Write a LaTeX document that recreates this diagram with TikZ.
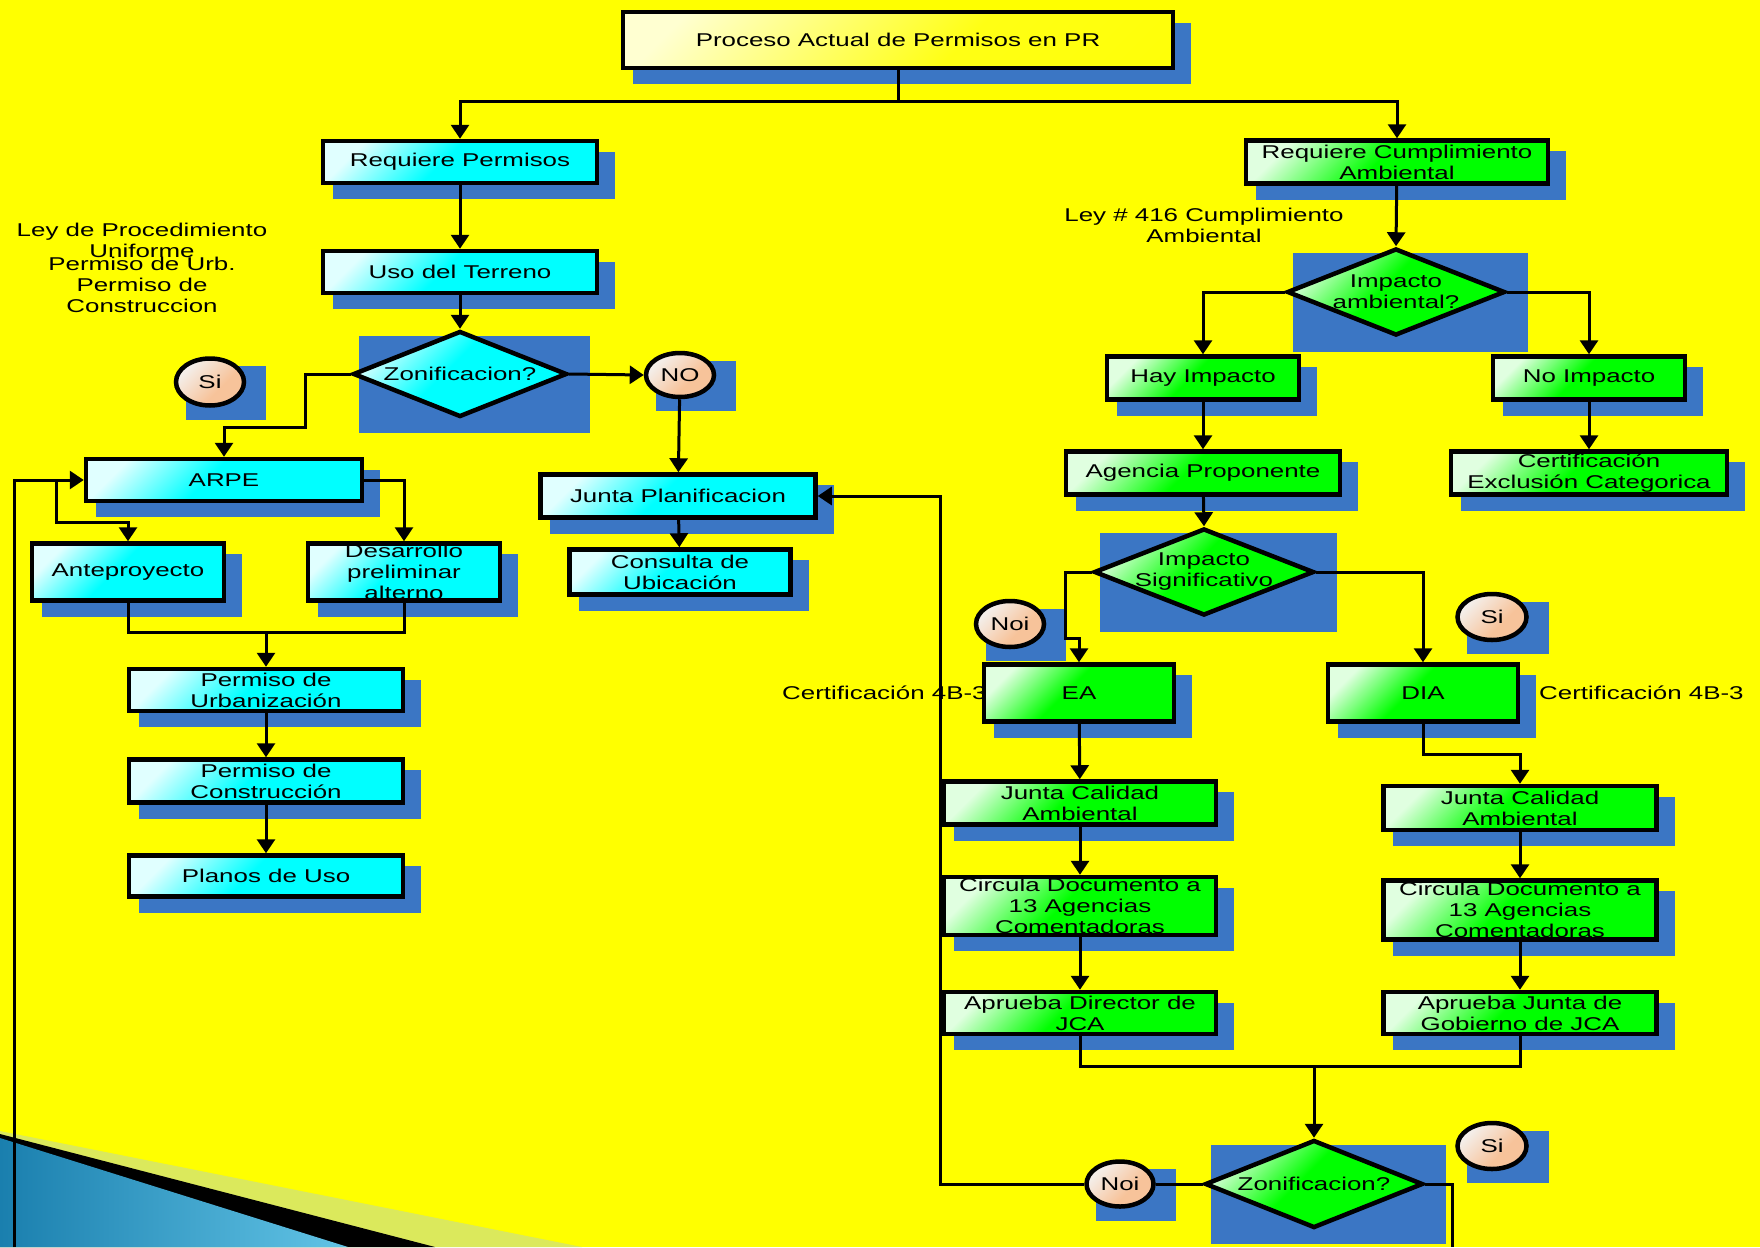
\documentclass[tikz,border=0pt]{standalone}
\usepackage{fontspec}
\setmainfont{Liberation Sans}[FakeStretch=1.4]
\usetikzlibrary{shapes.geometric,arrows.meta,calc,positioning}
\definecolor{bgyellow}{HTML}{FFFF00}
\definecolor{boxcyan}{HTML}{00FFFF}
\definecolor{boxgreen}{HTML}{00FF00}
\definecolor{peach}{HTML}{F7C39A}
\definecolor{peachlight}{HTML}{F4EEE9}
\definecolor{shadowblue}{HTML}{3B76C4}
\definecolor{decolight}{HTML}{DBE95C}
\definecolor{decoblueA}{HTML}{1A7FAE}
\definecolor{decoblueB}{HTML}{62C4E6}
\pgfdeclareverticalshading{cyfade}{100bp}{color(0bp)=(boxcyan); color(54bp)=(boxcyan); color(76bp)=(boxcyan!12!white); color(100bp)=(boxcyan!12!white)}
\pgfdeclareverticalshading{grfade}{100bp}{color(0bp)=(boxgreen); color(54bp)=(boxgreen); color(76bp)=(boxgreen!12!white); color(100bp)=(boxgreen!12!white)}
\pgfdeclareverticalshading{ylfade}{100bp}{color(0bp)=(bgyellow); color(42bp)=(bgyellow!92!white); color(78bp)=(bgyellow!18!white); color(100bp)=(bgyellow!18!white)}
\pgfdeclareverticalshading{pcfade}{100bp}{color(0bp)=(peach); color(40bp)=(peach); color(72bp)=(peachlight); color(100bp)=(peachlight)}
\pgfdeclarelayer{back}
\pgfdeclarelayer{shade}
\pgfsetlayers{back,shade,main}
\begin{document}
\begin{tikzpicture}[x=1pt,y=-1pt,>={Triangle[length=14pt,width=18pt]},
  font=\fontsize{18.5}{21}\selectfont,
  box/.style={rectangle,draw,line width=4.5pt,inner sep=0pt,align=center},
  wh/.style 2 args={minimum width=#1pt,minimum height=#2pt},
  cybox/.style={box,shade,shading=cyfade,shading angle=45},
  grbox/.style={box,shade,shading=grfade,shading angle=45},
  ylbox/.style={box,shade,shading=ylfade,shading angle=45},
  dec/.style={diamond,draw,line width=4.5pt,inner sep=0pt},
  cydec/.style={dec,shade,shading=cyfade,shading angle=45},
  grdec/.style={dec,shade,shading=grfade,shading angle=45},
  ans/.style={ellipse,draw,line width=4.5pt,inner sep=0pt,shade,shading=pcfade,shading angle=45},
  note/.style={align=center,inner sep=0pt},
  link/.style={line width=3pt}
]
\useasboundingbox (0,0) rectangle (1760,1247);
\begin{pgfonlayer}{back}
\fill[bgyellow] (0,0) rectangle (1760,1247);
\fill[decolight] (0,1131) -- (582,1247) -- (0,1247) -- cycle;
\fill[black] (0,1134) -- (435,1247) -- (0,1247) -- cycle;
\shade[left color=decoblueA,right color=decoblueB] (0,1138) -- (348,1247) -- (0,1247) -- cycle;
\end{pgfonlayer}
% notes
\node[note] (ley1) at (142,240) {Ley de Procedimiento\\Uniforme};
\node[note] (ley1b) at (142,285) {Permiso de Urb.\\Permiso de\\Construccion};
\node[note] (ley2) at (1204,225) {Ley \# 416 Cumplimiento\\Ambiental};
\node[note,anchor=west] (cert1) at (782,693) {Certificación 4B-3};
\node[note,anchor=west] (cert2) at (1539,693) {Certificación 4B-3};
% top
\node[ylbox,wh={550}{56}] (title) at (898,40) {Proceso Actual de Permisos en PR};
\node[cybox,wh={274}{42}] (reqperm) at (460,162) {Requiere Permisos};
\node[grbox,wh={302}{43}] (reqamb) at (1397,162) {Requiere Cumplimiento\\Ambiental};
% permisos
\node[cybox,wh={274}{42}] (uso) at (460,272) {Uso del Terreno};
\node[cydec,minimum width=214pt,minimum height=86pt,label={[note]center:Zonificacion?}] (zon1) at (460,374) {};
\node[ans,wh={68}{47}] (si1) at (210,382) {Si};
\node[ans,wh={68}{44}] (no) at (680,375) {NO};
\node[cybox,wh={276}{42}] (arpe) at (224,480) {ARPE};
\node[cybox,wh={192}{57}] (ante) at (128,572) {Anteproyecto};
\node[cybox,wh={192}{57}] (desa) at (404,572) {Desarrollo\\preliminar\\alterno};
\node[cybox,wh={274}{42}] (purb) at (266,690) {Permiso de\\Urbanización};
\node[cybox,wh={274}{43}] (pcons) at (266,781) {Permiso de\\Construcción};
\node[cybox,wh={274}{41}] (planos) at (266,876) {Planos de Uso};
\node[cybox,wh={275}{43}] (jp) at (678,496) {Junta Planificacion};
\node[cybox,wh={221}{45}] (cons) at (680,572) {Consulta de\\Ubicación};
% ambiental
\node[grdec,minimum width=218pt,minimum height=87pt,label={[note]center:Impacto\\ambiental?}] (impamb) at (1396,292) {};
\node[grbox,wh={192}{43}] (hay) at (1203,378) {Hay Impacto};
\node[grbox,wh={192}{43}] (noimp) at (1589,378) {No Impacto};
\node[grbox,wh={274}{43}] (agen) at (1203,473) {Agencia Proponente};
\node[grbox,wh={276}{43}] (certex) at (1589,473) {Certificación\\Exclusión Categorica};
\node[grdec,minimum width=220pt,minimum height=87pt,label={[note]center:Impacto\\Significativo}] (impsig) at (1204,572) {};
\node[ans,wh={68}{46}] (noi1) at (1010,624) {Noi};
\node[ans,wh={69}{46}] (si2) at (1492,617) {Si};
\node[grbox,wh={190}{57}] (ea) at (1079,693) {EA};
\node[grbox,wh={190}{57}] (dia) at (1423,693) {DIA};
\node[grbox,wh={272}{43}] (jcaL) at (1080,803) {Junta Calidad\\Ambiental};
\node[grbox,wh={273}{44}] (jcaR) at (1520,808) {Junta Calidad\\Ambiental};
\node[grbox,wh={272}{58}] (circL) at (1080,906) {Circula Documento a\\13 Agencias\\Comentadoras};
\node[grbox,wh={273}{59}] (circR) at (1520,910) {Circula Documento a\\13 Agencias\\Comentadoras};
\node[grbox,wh={272}{42}] (apL) at (1080,1013) {Aprueba Director de\\JCA};
\node[grbox,wh={273}{42}] (apR) at (1520,1013) {Aprueba Junta de\\Gobierno de JCA};
\node[grdec,minimum width=218pt,minimum height=88pt,label={[note]center:Zonificacion?}] (zon2) at (1314,1184) {};
\node[ans,wh={67}{45}] (noi2) at (1120,1184) {Noi};
\node[ans,wh={69}{46}] (si3) at (1492,1146) {Si};
\coordinate (fbL) at (14,1247);
% shadows
\begin{pgfonlayer}{shade}
\foreach \n in {title,reqperm,reqamb,uso,arpe,ante,desa,purb,pcons,planos,jp,cons,
  hay,noimp,agen,certex,ea,dia,jcaL,jcaR,circL,circR,apL,apR}
  \fill[shadowblue] ($(\n.north west)+(12,13)$) rectangle ($(\n.south east)+(16,14)$);
\foreach \n in {zon1,impamb,impsig,zon2}
  \fill[shadowblue] ($(\n.west |- \n.north)+(8,7)$) rectangle ($(\n.east |- \n.south)+(21,14)$);
\foreach \n in {si1,no,noi1,si2,noi2,si3}
  \fill[shadowblue] ($(\n.west |- \n.north)+(12,10)$) rectangle ($(\n.east |- \n.south)+(20,12)$);
\end{pgfonlayer}
% links
\draw[link] (title.south) -- ++(0,31) coordinate (bus);
\draw[link,->] (bus) -| (reqperm.north);
\draw[link,->] (bus) -| (reqamb.north);
\draw[link,->] (reqperm) -- (uso);
\draw[link,->] (uso) -- (zon1.north);
\draw[link,->] (zon1.east) -- (no.west);
\draw[link,->] (zon1.west) -- ++(-45,0) -- ++(0,53) -| (arpe.north);
\draw[link,->] (no) -- (jp);
\draw[link,->] (jp) -- (cons);
\draw[link,->] (fbL) |- (arpe.west);
\draw[link,->] ([xshift=-27pt]arpe.west) -- ++(0,42) -| (ante.north);
\draw[link,->] (arpe.east) -| (desa.north);
\draw[link] (ante.south) -- ++(0,30) coordinate (mergeA) -| (desa.south);
\draw[link,->] (mergeA -| purb.north) -- (purb.north);
\draw[link,->] (purb) -- (pcons);
\draw[link,->] (pcons) -- (planos);
% links ambiental
\draw[link,->] (reqamb) -- (impamb.north);
\draw[link,->] (impamb.west) -| (hay.north);
\draw[link,->] (impamb.east) -| (noimp.north);
\draw[link,->] (hay) -- (agen);
\draw[link,->] (noimp) -- (certex);
\draw[link,->] (agen) -- (impsig.north);
\draw[link,->] (impsig.west) -- ++(-26,0) -- ++(0,66) -| (ea.north);
\draw[link,->] (impsig.east) -| (dia.north);
\draw[link,->] (ea) -- (jcaL);
\draw[link,->] (dia.south) -- ++(0,31) -| (jcaR.north);
\draw[link,->] (jcaL) -- (circL);
\draw[link,->] (circL) -- (apL);
\draw[link,->] (jcaR) -- (circR);
\draw[link,->] (circR) -- (apR);
\draw[link] (apL.south) -- ++(0,30) coordinate (mergeB) -| (apR.south);
\draw[link,->] (mergeB -| zon2.north) -- (zon2.north);
\draw[link] (zon2.west) -- (noi2.east);
\draw[link,->] (noi2.west) -- ++(-144,0) |- (jp.east);
\draw[link] (zon2.east) -- ++(27,0) -- ++(0,63);
\end{tikzpicture}
\end{document}
